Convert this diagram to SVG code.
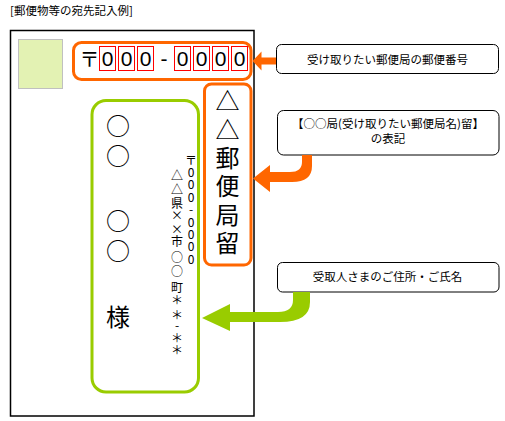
<svg xmlns="http://www.w3.org/2000/svg" width="505" height="421" viewBox="0 0 505 421">
<style>
.jp{font-family:"Noto Sans CJK JP","Noto Sans CJK SC",sans-serif;fill:#000}
.t{font-size:11.5px}
.vt{writing-mode:vertical-rl;text-orientation:upright}
.digit{font-family:"Liberation Sans","Noto Sans CJK JP",sans-serif;font-size:21px;font-weight:300;text-anchor:middle;fill:#000}
.rbox{fill:none;stroke:#ff0000;stroke-width:1}
.callout{fill:#fff;stroke:#000;stroke-width:1}
.orange{fill:none;stroke:#ff6600;stroke-width:3}
.green{fill:none;stroke:#99cc00;stroke-width:3}
</style>
<rect width="505" height="421" fill="#fff"/>
<text class="jp t" x="10" y="14.5" textLength="123">[郵便物等の宛先記入例]</text>

<g id="envelope">
<rect x="10.5" y="30.5" width="243.5" height="385.5" fill="#fff" stroke="#000" stroke-width="1.5"/>
<rect x="18.5" y="39.5" width="44" height="49" fill="#e3f2b3" stroke="#c0c0c0" stroke-width="1"/>
</g>

<g id="postal-code">
<rect class="orange" x="73.5" y="42.5" width="177.5" height="37" rx="8"/>
<text class="jp" x="89.5" y="67" font-size="20" text-anchor="middle">〒</text>
<rect class="rbox" x="99.5" y="46.5" width="16" height="24"/>
<rect class="rbox" x="118.5" y="46.5" width="16" height="24"/>
<rect class="rbox" x="137.5" y="46.5" width="16" height="24"/>
<rect class="rbox" x="174.5" y="46.5" width="16" height="24"/>
<rect class="rbox" x="193.5" y="46.5" width="16" height="24"/>
<rect class="rbox" x="212.5" y="46.5" width="16" height="24"/>
<rect class="rbox" x="231.5" y="46.5" width="16" height="24"/>
<text class="digit" x="107.5" y="65.5">0</text>
<text class="digit" x="126.5" y="65.5">0</text>
<text class="digit" x="145.5" y="65.5">0</text>
<text class="digit" x="164" y="65.5">-</text>
<text class="digit" x="182.5" y="65.5">0</text>
<text class="digit" x="201.5" y="65.5">0</text>
<text class="digit" x="220.5" y="65.5">0</text>
<text class="digit" x="239.5" y="65.5">0</text>
</g>

<g id="post-office">
<rect class="orange" x="204.5" y="84" width="46.5" height="181" rx="7"/>
<text class="jp vt" x="227.5" y="89" font-size="24" letter-spacing="4.4">△△郵便局留</text>
</g>

<g id="recipient">
<rect class="green" x="92" y="100.5" width="106.5" height="291.5" rx="14"/>
<text class="jp vt" x="118" y="114" font-size="24" letter-spacing="6">○○</text>
<text class="jp vt" x="118" y="209" font-size="24" letter-spacing="6">○○</text>
<text class="jp vt" x="118" y="305" font-size="24">様</text>
<text class="jp vt" x="191" y="154" font-size="12" letter-spacing="0.4">〒000-0000</text>
<text class="jp vt" x="177" font-size="12"><tspan y="169.5">△</tspan><tspan y="183.5">△</tspan><tspan y="197">県</tspan><tspan y="209.5">×</tspan><tspan y="223">×</tspan><tspan y="235.5">市</tspan><tspan y="251">○</tspan><tspan y="265.5">○</tspan><tspan y="281.5">町</tspan><tspan y="294">＊</tspan><tspan y="309">＊</tspan><tspan y="319">-</tspan><tspan y="332.5">＊</tspan><tspan y="344">＊</tspan></text>
</g>

<g id="callout-postal">
<rect class="callout" x="276.5" y="44.5" width="222" height="29" rx="5"/>
<text class="jp t" x="387.5" y="63.5" text-anchor="middle">受け取りたい郵便局の郵便番号</text>
</g>

<g id="callout-office">
<rect class="callout" x="277.5" y="110.5" width="221.5" height="44.5" rx="6"/>
<text class="jp t" x="388" y="127.5" text-anchor="middle">【○○局(受け取りたい郵便局名)留】</text>
<text class="jp t" x="388" y="142.5" text-anchor="middle">の表記</text>
</g>

<g id="callout-recipient">
<rect class="callout" x="277.5" y="262.5" width="221.5" height="29.5" rx="5"/>
<text class="jp t" x="387.5" y="281" text-anchor="middle">受取人さまのご住所・ご氏名</text>
</g>

<g id="connectors">
<path d="M276 57.5 L261.5 57.5 L261.5 51.5 L252.5 61 L261.5 70.5 L261.5 64.5 L276 64.5 Z" fill="#ff6600"/>
<path d="M302 155 L312 155 L312 166 Q312 182 292 182 L270 182 L270 192 L253 178.5 L270 165 L270 172 L290 172 Q302 172 302 162 Z" fill="#ff6600"/>
<path d="M293 292 L310 292 L310 302 Q310 322 280 322 L230 322 L230 331 L202 318 L230 304 L230 312 L278 312 Q293 312 293 300 Z" fill="#99cc00"/>
</g>
</svg>
